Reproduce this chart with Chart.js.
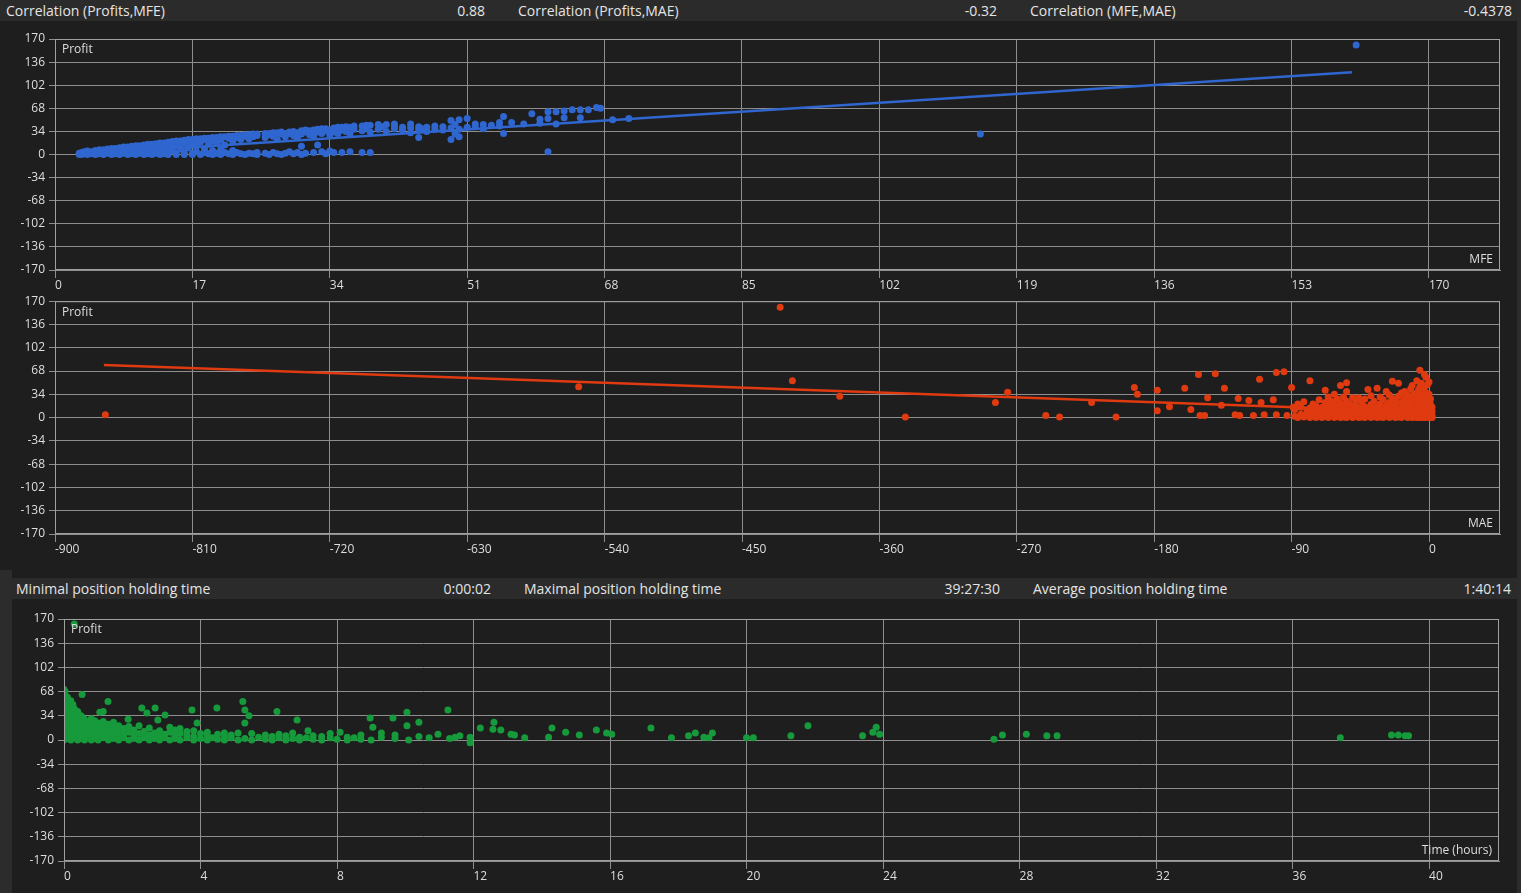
<!DOCTYPE html>
<html>
<head>
<meta charset="utf-8">
<script src="https://cdn.jsdelivr.net/npm/chart.js@4.4.1/dist/chart.umd.min.js"></script>
<style>
  body { margin:0; width:1521px; height:893px; overflow:hidden; background:#2c2c2c; position:relative;
         font-family:"Open Sans","Noto Sans",sans-serif; color:#e4e4e4; }
  .panel { position:absolute; background:#1e1e1e; }
  .bar { position:absolute; background:#2b2b2b; height:21px; }
  .bar span { position:absolute; top:0; line-height:21px; font-size:14px; white-space:nowrap; }
  .bar .v { text-align:right; }
  .box { position:absolute; }
</style>
</head>
<body>
<div class="panel" style="left:0;top:0;width:1517px;height:570px"></div>
<div class="panel" style="left:12px;top:570px;width:1505px;height:323px"></div>

<div class="bar" id="topBar" style="left:0;top:0;width:1517px"></div>
<div class="bar" id="bottomBar" style="left:10px;top:578px;width:1507px"></div>

<div class="box" style="left:0;top:22px;width:1517px;height:268px"><canvas id="mfeChart"></canvas></div>
<div class="box" style="left:0;top:290px;width:1517px;height:264px"><canvas id="maeChart"></canvas></div>
<div class="box" style="left:10px;top:602px;width:1507px;height:279px"><canvas id="timeChart"></canvas></div>

<script>
// header statistics
const topLabels = ['Correlation (Profits,MFE)', 'Correlation (Profits,MAE)', 'Correlation (MFE,MAE)'];
const topValues = ['0.88', '-0.32', '-0.4378'];
const bottomLabels = ['Minimal position holding time', 'Maximal position holding time', 'Average position holding time'];
const bottomValues = ['0:00:02', '39:27:30', '1:40:14'];

// axis ticks
const profitMin = -170, profitMax = 170, profitStep = 34;
const mfeStep = 17, maeStep = 90, hourStep = 4;

// Profit vs MFE  [mfe, profit]
const mfePoints = [
  [3,0],[3,2],[3.3,0],[3.3,3],[3.6,1],[3.6,4],[4,0],[4,2],[4,5],[4.5,1],[4.5,4],[5,0],[5,3],[5,6],
  [5.5,1],[5.5,5],[5.5,7],[6,0],[6,3],[6,7],[6.5,2],[6.5,6],[6.5,8],[7,0],[7,4],[7,9],[7.5,1],[7.5,6],[7.5,9],
  [8,0],[8,3],[8,7],[8,10],[8.5,2],[8.5,5],[8.5,11],[9,0],[9,4],[9,8],[9,11],[9.5,1],[9.5,6],[9.5,12],
  [10,0],[10,3],[10,9],[10,13],[10.5,2],[10.5,7],[10.5,13],[11,0],[11,5],[11,10],[11,14],[11.5,1],[11.5,8],[11.5,15],
  [12,0],[12,4],[12,11],[12,15],[12.5,2],[12.5,7],[12.5,16],[13,0],[13,5],[13,12],[13,17],[13.5,1],[13.5,9],[13.5,17],
  [14,0],[14,3],[14,14],[14,18],[14.5,6],[14.5,11],[14.5,19],[15,0],[15,2],[15,15],[15,20],[15.5,8],[15.5,13],[15.5,20],
  [16,0],[16,3],[16,17],[16,21],[16.5,10],[16.5,19],[16.5,22],[17,0],[17,2],[17,16],[17,22],[17.5,4],[17.5,12],[17.5,21],[17.5,23],
  [18,0],[18,18],[18,23],[18.5,3],[18.5,8],[18.5,22],[18.5,24],[19,1],[19,15],[19,24],[19.5,0],[19.5,6],[19.5,20],[19.5,25],
  [20,2],[20,17],[20,23],[20,25],[20.5,0],[20.5,8],[20.5,21],[20.5,26],[21,3],[21,14],[21,26],[21.5,1],[21.5,24],[21.5,27],
  [22,0],[22,6],[22,19],[22,27],[22.5,3],[22.5,25],[22.5,28],[23,1],[23,22],[23,28],[23.5,0],[23.5,27],[23.5,29],
  [24,2],[24,23],[24,29],[24.5,1],[24.5,26],[24.5,30],[25,0],[25,3],[25,28],[25,30],[26,2],[26,25],[26,31],
  [26.5,0],[26.5,29],[26.5,31],[27,3],[27,27],[27,32],[27.5,1],[27.5,22],[27.5,32],[28,0],[28,30],[28,33],
  [28.5,2],[28.5,26],[28.5,31],[29,4],[29,31],[29,33],[29.5,1],[29.5,28],[29.5,34],[30,3],[30,25],[30,32],
  [30.5,0],[30.5,12],[30.5,30],[30.5,35],[31,2],[31,33],[31,36],[31.5,29],[31.5,35],[32,3],[32,27],[32,36],
  [32.5,14],[32.5,33],[32.5,37],[33,4],[33,31],[33,38],[33.5,1],[33.5,35],[33.5,38],[34,5],[34,29],[34,36],
  [34.5,3],[34.5,33],[34.5,39],[35,31],[35,40],[35.5,3],[35.5,36],[35.5,40],[36,34],[36,38],[36,41],
  [36.5,4],[36.5,30],[36.5,40],[37,37],[37,42],[38,3],[38,35],[38,42],[38.5,39],[38.5,43],[39,3],[39,33],[39,43],
  [40,37],[40,44],[40.5,41],[41,34],[41,44],[42,38],[42,42],[42,45],[43,36],[43,40],[44,32],[44,39],[44,45],
  [45,25],[45,36],[45,41],[45.5,38],[46,34],[46,40],[47,37],[47,42],[48,36],[48,41],[49,22],[49,39],[49,50],
  [49.5,30],[49.5,44],[50,26],[50,37],[50,51],[51,40],[51,53],[52,41],[52,45],[53,38],[53,44],[54,43],
  [55,42],[55,47],[55.5,31],[55.5,56],[56.5,47],[58,45],[59,60],[60,46],[60,52],[61,4],[61,53],[61,63],
  [62,45],[62,63],[63,54],[63,64],[64,66],[65,54],[65,66],[66,66],[67,69],[67.5,68],[69,51],[71,53],
  [114.5,30],[161,161]
];
const mfeTrend = [[3,0],[160.5,121]];

// Profit vs MAE  [mae, profit]
const maePoints = [
  [-867,4],[-557,45],[-425,161],[-417,54],[-386,31],[-343,1],[-284,22],[-276,37],[-251,3],[-242,1],
  [-221,22],[-205,1],[-193,44],[-191,34],[-178,40],[-178,10],[-170,16],[-160,43],[-156,12],[-151,63],
  [-150,3],[-147,3],[-145,29],[-140,64],[-136,18],[-134,43],[-127,4],[-125,28],[-124,3],[-118,25],
  [-115,3],[-111,56],[-110,22],[-108,4],[-102,26],[-100,66],[-100,4],[-95,67],[-93,3],[-90,44],[-89,15],
  [-88,2],[-88,12],[-86,0],[-86,20],[-84,5],[-84,15],[-82,1],[-82,23],[-80,3],[-80,10],
  [-78,0],[-78,14],[-78,54],[-76,2],[-76,8],[-76,20],[-74,0],[-74,5],[-74,17],[-72,3],[-72,11],[-72,26],
  [-70,0],[-70,7],[-70,15],[-68,2],[-68,12],[-68,22],[-68,40],[-66,0],[-66,5],[-66,17],[-66,30],
  [-64,3],[-64,9],[-64,14],[-64,24],[-62,0],[-62,6],[-62,19],[-62,34],[-60,2],[-60,11],[-60,16],[-60,27],
  [-58,0],[-58,4],[-58,8],[-58,21],[-58,47],[-56,1],[-56,13],[-56,18],[-56,30],
  [-54,0],[-54,6],[-54,10],[-54,24],[-54,38],[-54,51],[-52,3],[-52,8],[-52,15],[-52,20],
  [-50,0],[-50,5],[-50,12],[-50,29],[-48,2],[-48,9],[-48,17],[-48,25],[-46,0],[-46,4],[-46,14],[-46,29],
  [-44,1],[-44,7],[-44,11],[-44,22],[-42,0],[-42,5],[-42,16],[-42,27],[-40,3],[-40,9],[-40,13],[-40,41],
  [-38,0],[-38,6],[-38,19],[-38,32],[-36,2],[-36,11],[-36,24],[-34,0],[-34,4],[-34,8],[-34,15],[-34,43],
  [-32,1],[-32,13],[-32,20],[-32,30],[-30,0],[-30,5],[-30,10],[-30,26],[-28,3],[-28,8],[-28,17],[-28,38],
  [-26,0],[-26,6],[-26,12],[-26,22],[-26,33],[-24,2],[-24,9],[-24,15],[-24,28],[-24,53],
  [-22,0],[-22,4],[-22,19],[-22,25],[-20,1],[-20,7],[-20,11],[-20,31],[-20,50],
  [-18,0],[-18,5],[-18,14],[-18,22],[-18,36],[-16,3],[-16,9],[-16,17],[-16,27],[-16,38],
  [-14,0],[-14,6],[-14,12],[-14,20],[-14,33],[-12,2],[-12,8],[-12,15],[-12,25],[-12,42],
  [-11,0],[-11,4],[-11,18],[-11,29],[-11,47],[-10,1],[-10,10],[-10,14],[-10,35],
  [-8,0],[-8,5],[-8,12],[-8,21],[-8,30],[-8,54],[-7,3],[-7,8],[-7,16],[-7,26],[-7,40],
  [-6,0],[-6,6],[-6,19],[-6,33],[-6,45],[-6,69],[-5,2],[-5,11],[-5,24],[-5,37],[-5,50],
  [-4,0],[-4,4],[-4,15],[-4,28],[-4,41],[-3,1],[-3,9],[-3,20],[-3,31],[-3,44],[-3,63],
  [-2,0],[-2,6],[-2,13],[-2,25],[-2,36],[-2,59],[-1,2],[-1,10],[-1,17],[-1,30],[-1,48],
  [0,0],[0,4],[0,8],[0,14],[0,22],[0,34],[0,52],[1,1],[1,6],[1,11],[1,19],[1,27],[2,0],[2,3],[2,9],[2,15]
];
const maeTrend = [[-868,77],[0,8]];

// Profit vs holding time  [hours, profit]
const timePoints = [
  [0,0],[0,8],[0,16],[0,24],[0,32],[0,40],[0,48],[0,56],[0,64],[0,71],
  [0.03,68],[0.1,2],[0.1,10],[0.1,18],[0.1,26],[0.1,34],[0.1,42],[0.1,50],[0.1,60],[0.3,163],
  [0.2,0],[0.2,6],[0.2,14],[0.2,22],[0.2,30],[0.2,38],[0.2,46],[0.2,55],[0.26,50],
  [0.3,3],[0.3,11],[0.3,19],[0.3,27],[0.3,35],[0.3,44],[0.4,0],[0.4,7],[0.4,15],[0.4,23],[0.4,31],[0.4,40],
  [0.5,2],[0.5,10],[0.5,18],[0.5,26],[0.5,34],[0.53,64],[0.6,0],[0.6,5],[0.6,13],[0.6,21],[0.6,29],
  [0.7,3],[0.7,9],[0.7,17],[0.7,25],[0.8,0],[0.8,6],[0.8,14],[0.8,22],[0.8,30],
  [0.9,2],[0.9,11],[0.9,19],[0.9,27],[1.0,0],[1.0,7],[1.0,15],[1.0,24],[1.05,39],[1.15,40],
  [1.15,3],[1.15,10],[1.15,18],[1.15,26],[1.29,54],[1.3,0],[1.3,6],[1.3,14],[1.3,22],
  [1.45,2],[1.45,9],[1.45,17],[1.45,25],[1.6,0],[1.6,5],[1.6,12],[1.6,20],[1.75,3],[1.75,8],[1.75,16],
  [1.88,29],[1.9,0],[1.9,11],[1.9,19],[2.05,2],[2.05,6],[2.05,14],[2.2,0],[2.2,9],[2.2,20],[2.28,45],
  [2.35,3],[2.35,12],[2.43,38],[2.5,0],[2.5,7],[2.5,17],[2.65,2],[2.65,10],[2.67,45],[2.75,28],
  [2.8,0],[2.8,5],[2.8,13],[2.95,3],[2.95,8],[2.96,35],[3.1,0],[3.1,11],[3.1,18],[3.25,2],[3.25,6],[3.25,14],
  [3.4,0],[3.4,9],[3.4,16],[3.6,3],[3.6,7],[3.6,12],[3.75,42],[3.8,0],[3.8,5],[3.8,13],[3.9,24],
  [4.0,2],[4.0,9],[4.2,0],[4.2,6],[4.2,11],[4.35,3],[4.48,45],[4.5,1],[4.5,8],[4.7,0],[4.7,5],[4.7,10],
  [4.9,3],[4.9,7],[5.1,0],[5.1,10],[5.24,54],[5.3,42],[5.3,24],[5.3,2],[5.42,34],[5.5,0],[5.5,9],
  [5.7,4],[5.9,1],[5.9,7],[6.1,0],[6.1,5],[6.24,40],[6.3,3],[6.3,8],[6.5,0],[6.5,6],[6.7,2],[6.7,10],
  [6.83,28],[6.9,0],[6.9,4],[7.15,13],[7.1,3],[7.3,1],[7.3,6],[7.55,0],[7.55,5],[7.8,3],[7.8,9],
  [8.0,1],[8.09,11],[8.3,0],[8.3,4],[8.5,3],[8.7,1],[8.7,7],[8.97,31],[9.0,0],[9.05,18],[9.3,4],[9.3,10],
  [9.64,31],[9.7,2],[9.7,7],[10.05,39],[10.05,20],[10.1,0],[10.4,25],[10.4,5],[10.7,3],[10.96,8],
  [11.25,42],[11.3,2],[11.46,4],[11.6,6],[11.9,4],[11.9,-4],[12.2,17],[12.57,15],[12.6,25],[12.8,14],
  [13.1,8],[13.2,7],[13.5,3],[14.2,4],[14.3,17],[14.7,11],[15.1,7],[15.6,14],[15.9,10],[16.05,8],
  [17.2,17],[17.8,3],[18.3,6],[18.5,10],[18.75,4],[18.9,3],[19.0,10],[20.0,3],[20.2,3],[21.3,6],[21.8,20],
  [23.4,6],[23.7,11],[23.8,18],[23.9,8],[27.25,1],[27.5,7],[28.2,8],[28.8,6],[29.1,6],
  [37.4,3],[38.9,7],[39.1,7],[39.3,6],[39.4,6]
];

const FONT = '"Open Sans","Noto Sans",sans-serif';
const TEXT = '#dedede';
const GRID = '#8e8e8e';

function fillBar(id, labels, values, starts, ends) {
  const bar = document.getElementById(id);
  labels.forEach((t, i) => {
    const a = document.createElement('span');
    a.textContent = t; a.style.left = starts[i] + 'px';
    const b = document.createElement('span');
    b.className = 'v'; b.textContent = values[i];
    b.style.right = (bar.offsetWidth - ends[i]) + 'px';
    bar.appendChild(a); bar.appendChild(b);
  });
}
fillBar('topBar', topLabels, topValues, [6, 518, 1030], [485, 997, 1512]);
fillBar('bottomBar', bottomLabels, bottomValues, [6, 514, 1023], [481, 990, 1501]);

const framePlugin = {
  id: 'frame',
  afterDraw(chart, args, opts) {
    const { ctx, chartArea: a } = chart;
    ctx.save();
    ctx.strokeStyle = '#a0a0a0';
    ctx.lineWidth = 1;
    ctx.strokeRect(a.left + 0.5, a.top + 0.5, a.width - 1, a.height - 1);
    ctx.fillStyle = TEXT;
    ctx.font = '12px ' + FONT;
    ctx.textAlign = 'left'; ctx.textBaseline = 'top';
    ctx.fillText(opts.yName, a.left + 7, a.top + 5);
    ctx.textAlign = 'right'; ctx.textBaseline = 'bottom';
    ctx.fillText(opts.xName, a.right - 7, a.bottom - 4);
    ctx.restore();
  }
};

function makeChart(id, cfg) {
  const toXY = p => ({ x: p[0], y: p[1] });
  return new Chart(document.getElementById(id), {
    type: 'scatter',
    data: {
      datasets: [
        ...(cfg.trend ? [{
          type: 'line', data: cfg.trend.map(toXY), borderColor: cfg.color, borderWidth: 2.5,
          pointRadius: 0, fill: false, order: 0
        }] : []),
        {
          data: cfg.points.map(toXY), backgroundColor: cfg.color, borderWidth: 0,
          pointRadius: 3.5, order: 1
        }
      ]
    },
    options: {
      responsive: true, maintainAspectRatio: false, animation: false, devicePixelRatio: 1,
      events: [],
      layout: { padding: { top: cfg.padTop, right: cfg.padRight, left: 0, bottom: 0 } },
      plugins: { legend: { display: false }, tooltip: { enabled: false },
                 frame: { xName: cfg.xName, yName: 'Profit' } },
      scales: {
        x: {
          type: 'linear', min: cfg.xMin, max: cfg.xMax,
          ticks: { stepSize: cfg.xStep, includeBounds: false, align: 'start', color: TEXT,
                   font: { family: FONT, size: 12 }, padding: 0, maxRotation: 0, autoSkip: false },
          grid: { color: GRID, tickLength: 8 },
          border: { color: GRID },
          afterFit(s) { s.height = 20; }
        },
        y: {
          min: profitMin, max: profitMax,
          ticks: { stepSize: profitStep, color: TEXT, font: { family: FONT, size: 12 }, padding: 4 },
          grid: { color: GRID, tickLength: 6 },
          border: { color: GRID },
          afterFit(s) { s.width = cfg.yWidth; }
        }
      }
    },
    plugins: [framePlugin]
  });
}

makeChart('mfeChart', {
  points: mfePoints, trend: mfeTrend, color: '#2f66cf', xName: 'MFE',
  xMin: 0, xMax: 178.8, xStep: mfeStep, padTop: 17, padRight: 17, yWidth: 55
});
makeChart('maeChart', {
  points: maePoints, trend: maeTrend, color: '#df3a10', xName: 'MAE',
  xMin: -900, xMax: 46.5, xStep: maeStep, padTop: 11, padRight: 17, yWidth: 55
});
makeChart('timeChart', {
  points: timePoints, trend: null, color: '#169a3b', xName: 'Time (hours)',
  xMin: 0, xMax: 42.05, xStep: hourStep, padTop: 17, padRight: 18, yWidth: 54
});
</script>
</body>
</html>
